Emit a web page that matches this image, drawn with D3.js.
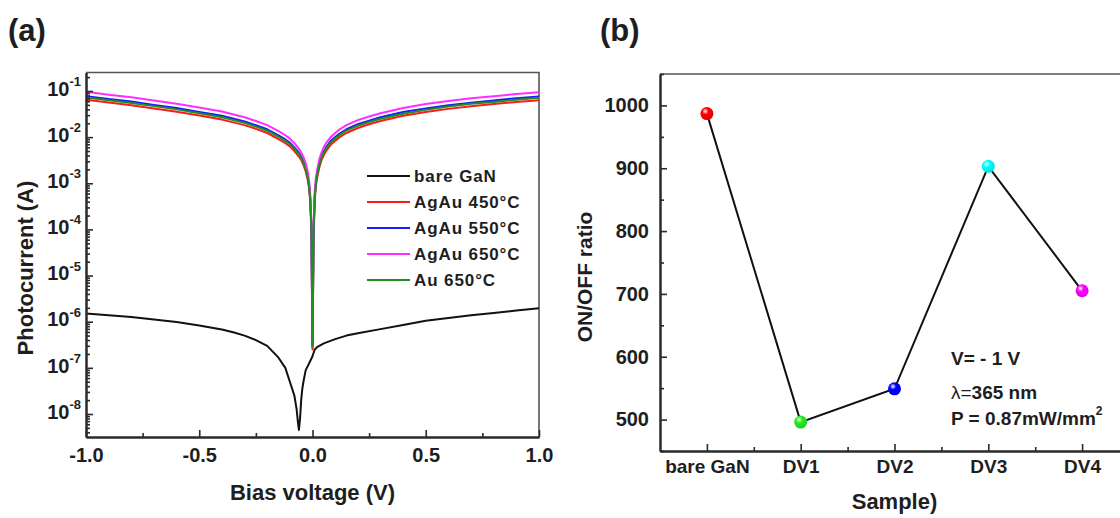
<!DOCTYPE html>
<html><head><meta charset="utf-8">
<script src="https://cdn.jsdelivr.net/npm/d3@7"></script>
<style>
body{margin:0;background:#fff}
svg text{font-family:"Liberation Sans",Arial,sans-serif;font-weight:bold;fill:#1e1e1e}
</style></head><body>
<svg id="c" width="1120" height="518"></svg>
<script>
// ---------- Panel (a) data ----------
const voltage = [-1,-0.9,-0.8,-0.7,-0.6,-0.5,-0.4,-0.3,-0.25,-0.2,-0.15,-0.12,-0.1,-0.08,-0.06,-0.05,-0.04,-0.03,-0.02,-0.015,-0.01,-0.005,0,0.005,0.01,0.015,0.02,0.03,0.04,0.05,0.06,0.08,0.1,0.12,0.15,0.2,0.25,0.3,0.4,0.5,0.6,0.7,0.8,0.9,1];
const iAgAu450 = [0.0646,0.0562,0.049,0.0417,0.0355,0.0295,0.024,0.0182,0.0151,0.0123,0.0091,0.0074,0.0063,0.005,0.0038,0.0032,0.0025,0.0018,0.00112,7.6e-4,4.0e-4,1.0e-4,2.5e-7,8e-5,4.5e-4,8.9e-4,1.3e-3,2.2e-3,3.2e-3,4.1e-3,5.0e-3,6.8e-3,8.3e-3,1.0e-2,1.23e-2,1.58e-2,1.9e-2,2.24e-2,2.9e-2,3.5e-2,4.1e-2,4.7e-2,5.2e-2,5.8e-2,6.3e-2];
const iAgAu550 = [0.077,0.067,0.059,0.05,0.043,0.035,0.029,0.0218,0.0181,0.0148,0.0109,0.0089,0.0076,0.006,0.0046,0.0038,0.003,0.0022,0.00134,9.1e-4,4.8e-4,1.2e-4,3e-7,1.0e-4,5.4e-4,1.07e-3,1.56e-3,2.6e-3,3.8e-3,4.9e-3,6.0e-3,8.2e-3,1.0e-2,1.2e-2,1.48e-2,1.9e-2,2.28e-2,2.7e-2,3.5e-2,4.2e-2,4.9e-2,5.6e-2,6.2e-2,7.0e-2,7.6e-2];
const iAgAu650 = [0.096,0.083,0.073,0.062,0.053,0.044,0.036,0.027,0.0224,0.0182,0.0135,0.011,0.0093,0.0074,0.0056,0.0047,0.0037,0.0027,0.0017,0.00113,6.0e-4,1.6e-4,5e-7,1.3e-4,6.7e-4,1.32e-3,1.9e-3,3.3e-3,4.7e-3,6.1e-3,7.4e-3,1.0e-2,1.23e-2,1.48e-2,1.82e-2,2.34e-2,2.8e-2,3.3e-2,4.3e-2,5.2e-2,6.1e-2,7.0e-2,7.7e-2,8.6e-2,9.4e-2];
const iAu650 = [0.072,0.063,0.055,0.047,0.04,0.033,0.027,0.0204,0.0169,0.0138,0.0102,0.0083,0.0071,0.0056,0.0043,0.0036,0.0028,0.002,0.00125,8.5e-4,4.5e-4,1.1e-4,2.8e-7,9e-5,5.0e-4,1.0e-3,1.46e-3,2.5e-3,3.6e-3,4.6e-3,5.6e-3,7.6e-3,9.3e-3,1.12e-2,1.38e-2,1.77e-2,2.13e-2,2.5e-2,3.2e-2,3.9e-2,4.6e-2,5.3e-2,5.8e-2,6.5e-2,7.1e-2];
const voltageBare = [-1,-0.9,-0.8,-0.7,-0.6,-0.5,-0.4,-0.35,-0.3,-0.25,-0.2,-0.15,-0.12,-0.1,-0.08,-0.07,-0.065,-0.06,-0.055,-0.05,-0.045,-0.04,-0.03,-0.02,-0.01,0,0.01,0.02,0.05,0.1,0.15,0.2,0.3,0.4,0.5,0.6,0.7,0.8,0.9,1];
const iBareGaN = [1.51e-6,1.38e-6,1.26e-6,1.12e-6,9.8e-7,8.3e-7,6.8e-7,5.9e-7,5.0e-7,4.0e-7,3.0e-7,1.66e-7,1.0e-7,5.0e-8,2.5e-8,1.26e-8,7.1e-9,4.5e-9,7.9e-9,2.0e-8,3.5e-8,5.0e-8,8.9e-8,1.12e-7,1.41e-7,1.78e-7,2.5e-7,2.8e-7,3.4e-7,4.2e-7,5.0e-7,5.6e-7,6.9e-7,8.5e-7,1.05e-6,1.2e-6,1.38e-6,1.55e-6,1.74e-6,1.95e-6];
const seriesNames = ["bare GaN","AgAu 450°C","AgAu 550°C","AgAu 650°C","Au 650°C"];
const seriesColors = ["#111111","#ff1a1a","#1a1aff","#ff2eff","#1f8f1f"];
const xTicksA = [-1,-0.5,0,0.5,1];
const xMinorA = [-0.75,-0.25,0.25,0.75];
const yExponentsA = [-8,-7,-6,-5,-4,-3,-2,-1];

// ---------- Panel (b) data ----------
const samples = ["bare GaN","DV1","DV2","DV3","DV4"];
const onOffRatio = [987,496,549,903,705];
const sampleColors = ["#ff0000","#22ee22","#0000ff","#00ffff","#ff00ff"];
const yTicksB = [500,600,700,800,900,1000];
const yMinorB = [450,550,650,750,850,950,1050];

const svg = d3.select("#c");
const defs = svg.append("defs");
const axisColor = "#2a2a2a";

// ================= Panel (a) =================
const xA = d3.scaleLinear([-1,1],[86,539]);
const yA = d3.scaleLog([3.17e-9,0.2518],[437,72.5]);
const gA = svg.append("g");

// frame top/right
gA.append("path")
  .attr("d",`M${xA.range()[0]},${yA.range()[1]}H${xA.range()[1]}V${yA.range()[0]}`)
  .attr("fill","none").attr("stroke","#555").attr("stroke-width",1.6);

const lineA = d3.line().x(d=>xA(d[0])).y(d=>yA(d[1]));
const seriesA = [
  d3.zip(voltageBare,iBareGaN),
  d3.zip(voltage,iAgAu450),
  d3.zip(voltage,iAgAu550),
  d3.zip(voltage,iAgAu650),
  d3.zip(voltage,iAu650)
];
seriesA.forEach((s,i)=>{
  gA.append("path").datum(s).attr("d",lineA)
    .attr("fill","none").attr("stroke",seriesColors[i]).attr("stroke-width",2)
    .attr("stroke-linejoin","round");
});

// x axis
const xAxA = gA.append("g").attr("transform",`translate(0,${yA.range()[0]})`)
  .call(d3.axisBottom(xA).tickValues(xTicksA).tickSize(-7).tickSizeOuter(0).tickPadding(11).tickFormat(d=>d.toFixed(1)));
gA.append("g").attr("transform",`translate(0,${yA.range()[0]})`)
  .call(d3.axisBottom(xA).tickValues(xMinorA).tickSize(-4).tickSizeOuter(0).tickFormat(""));
// y axis
const yMajor = yExponentsA.map(e=>Math.pow(10,e));
const yMinor = [];
for(let e=-9;e<=-1;e++){ for(let k=2;k<=9;k++){ const v=k*Math.pow(10,e); if(v>=yA.domain()[0]&&v<=yA.domain()[1]) yMinor.push(v);} }
const yAxA = gA.append("g").attr("transform",`translate(${xA.range()[0]},0)`)
  .call(d3.axisLeft(yA).tickValues(yMajor).tickSize(-7).tickSizeOuter(0).tickPadding(5).tickFormat(""));
gA.append("g").attr("transform",`translate(${xA.range()[0]},0)`)
  .call(d3.axisLeft(yA).tickValues(yMinor).tickSize(-4).tickSizeOuter(0).tickFormat(""));
yAxA.selectAll(".tick text").each(function(d){
  const t = d3.select(this).attr("dy","0.42em");
  t.append("tspan").attr("font-size","20px").text("10");
  t.append("tspan").attr("font-size","13px").attr("dy","-0.75em").text(String(Math.round(Math.log10(d))));
});

svg.selectAll("g.tick line").attr("stroke",axisColor).attr("stroke-width",1.6);
svg.selectAll(".domain").attr("stroke",axisColor).attr("stroke-width",2);
xAxA.selectAll(".tick text").attr("font-size","20px").attr("fill","#1e1e1e");
yAxA.selectAll(".tick text").attr("fill","#1e1e1e");

// legend
const leg = gA.append("g");
seriesNames.forEach((n,i)=>{
  const y = 176 + i*26;
  leg.append("line").attr("x1",367).attr("x2",410).attr("y1",y).attr("y2",y)
    .attr("stroke",seriesColors[i]).attr("stroke-width",2.2);
  leg.append("text").attr("x",414).attr("y",y).attr("dy","0.36em")
    .attr("font-size","17px").attr("letter-spacing","0.9px").text(n);
});

// titles
gA.append("text").attr("x",(xA.range()[0]+xA.range()[1])/2).attr("y",500)
  .attr("text-anchor","middle").attr("font-size","22px").text("Bias voltage (V)");
gA.append("text").attr("transform","translate(25,268) rotate(-90)")
  .attr("text-anchor","middle").attr("dy","0.36em").attr("font-size","22px").text("Photocurrent (A)");
svg.append("text").attr("x",8).attr("y",41).attr("font-size","31px").text("(a)");

// ================= Panel (b) =================
const xB = d3.scaleLinear([0.5,5.5],[660,1129]);
const yB = d3.scaleLinear([450,1050],[451,74]);
const gB = svg.append("g");
gB.append("path").attr("d",`M${xB.range()[0]},${yB.range()[1]}H${xB.range()[1]}V${yB.range()[0]}`)
  .attr("fill","none").attr("stroke","#555").attr("stroke-width",1.6);

const idx = samples.map((s,i)=>i+1);
const xAxB = gB.append("g").attr("transform",`translate(0,${yB.range()[0]})`)
  .call(d3.axisBottom(xB).tickValues(idx).tickSize(-7).tickSizeOuter(0).tickPadding(9).tickFormat(d=>samples[d-1]));
gB.append("g").attr("transform",`translate(0,${yB.range()[0]})`)
  .call(d3.axisBottom(xB).tickValues([1.5,2.5,3.5,4.5]).tickSize(-4).tickSizeOuter(0).tickFormat(""));
const yAxB = gB.append("g").attr("transform",`translate(${xB.range()[0]},0)`)
  .call(d3.axisLeft(yB).tickValues(yTicksB).tickSize(-7).tickSizeOuter(0).tickPadding(11).tickFormat(d3.format("d")));
gB.append("g").attr("transform",`translate(${xB.range()[0]},0)`)
  .call(d3.axisLeft(yB).tickValues(yMinorB).tickSize(-4).tickSizeOuter(0).tickFormat(""));
gB.selectAll("g.tick line").attr("stroke",axisColor).attr("stroke-width",1.6);
gB.selectAll(".domain").attr("stroke",axisColor).attr("stroke-width",2);
xAxB.selectAll(".tick text").attr("font-size","19px").attr("fill","#1e1e1e");
yAxB.selectAll(".tick text").attr("font-size","20px").attr("fill","#1e1e1e");

const ptsB = idx.map((x,i)=>[x,onOffRatio[i]]);
gB.append("path").datum(ptsB).attr("d",d3.line().x(d=>xB(d[0])).y(d=>yB(d[1])))
  .attr("fill","none").attr("stroke","#111").attr("stroke-width",2);
sampleColors.forEach((c,i)=>{
  const g = defs.append("radialGradient").attr("id","sph"+i).attr("cx","38%").attr("cy","32%").attr("r","70%");
  g.append("stop").attr("offset","0%").attr("stop-color","#ffffff");
  g.append("stop").attr("offset","35%").attr("stop-color",c);
  g.append("stop").attr("offset","100%").attr("stop-color",d3.color(c).darker(0.4));
});
gB.selectAll("circle.pt").data(ptsB).join("circle").attr("class","pt")
  .attr("cx",d=>xB(d[0])).attr("cy",d=>yB(d[1])).attr("r",6.5)
  .attr("fill",(d,i)=>`url(#sph${i})`);

// titles
gB.append("text").attr("x",xB(3)).attr("y",509).attr("text-anchor","middle").attr("font-size","22px").text("Sample)");
gB.append("text").attr("transform","translate(584,277) rotate(-90)")
  .attr("text-anchor","middle").attr("dy","0.36em").attr("font-size","21px").text("ON/OFF ratio");
svg.append("text").attr("x",600).attr("y",41).attr("font-size","31px").text("(b)");

// annotation
const ann = gB.append("g");
ann.append("text").attr("x",951).attr("y",365).attr("font-size","19px").text("V= - 1 V");
const l2 = ann.append("text").attr("x",951).attr("y",399).attr("font-size","19px");
l2.append("tspan").attr("font-weight","normal").text("λ=");
l2.append("tspan").text("365 nm");
const l3 = ann.append("text").attr("x",951).attr("y",425).attr("font-size","19px");
l3.append("tspan").text("P = 0.87mW/mm");
l3.append("tspan").attr("font-size","12px").attr("dy","-0.8em").text("2");
</script>
</body></html>
